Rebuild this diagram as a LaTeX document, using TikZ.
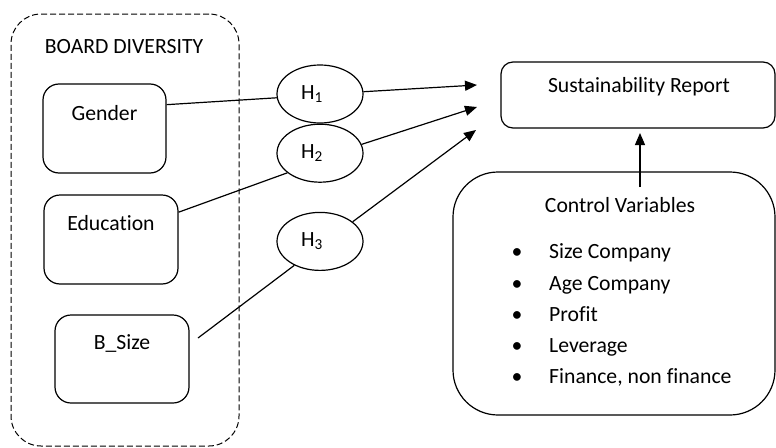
\documentclass[tikz,border=0pt]{standalone}
\usepackage{fontspec}
\setmainfont[Ligatures=NoCommon]{Carlito}
\usetikzlibrary{positioning, arrows.meta, shapes.geometric}

\begin{document}
\begin{tikzpicture}[x=1pt, y=-1pt,
    font=\fontsize{21.7}{26}\selectfont,
    groupbox/.style={draw, dash pattern=on 6pt off 3pt, rounded corners=30pt, line width=1pt},
    varbox/.style={draw, rounded corners=16pt, line width=1.2pt, minimum height=89pt},
    hypnode/.style={ellipse, draw, line width=1.2pt, minimum width=86pt, minimum height=58pt, inner sep=0pt},
    depbox/.style={draw, rounded corners=12pt, line width=1.2pt, minimum width=274pt, minimum height=66pt},
    ctrlbox/.style={draw, rounded corners=45pt, line width=1.2pt, minimum width=322pt, minimum height=243pt},
    bullet/.style={anchor=base, inner sep=0pt},
    itemtxt/.style={anchor=base west, inner sep=0pt},
    linestyle/.style={line width=1.2pt},
    arrowstyle/.style={-{Triangle[length=12pt,width=10pt]}, line width=1.2pt}
]
\useasboundingbox (0,0) rectangle (776,447);

% Board diversity
\node[groupbox, minimum width=228pt, minimum height=432pt] (board) at (125,230) {};
\node[anchor=base] (boardtitle) at (124,53) {BOARD DIVERSITY};

\node[varbox, minimum width=123pt] (gender) at (104.5,128.5) {};
\node[below=18pt of gender.north] (gendertxt) {Gender};
\node[varbox, minimum width=134pt] (education) at (111,239.5) {};
\node[below=17pt of education.north] (educationtxt) {Education};
\node[varbox, minimum width=134pt, minimum height=88pt] (bsize) at (122,359) {};
\node[below=17pt of bsize.north] (bsizetxt) {B\_Size};

% Hypotheses
\node[hypnode] (h1) at (320,94) {H\textsubscript{1}\kern16pt};
\node[hypnode, below=0pt of h1] (h2) {H\textsubscript{2}\kern16pt};
\node[hypnode, below=29pt of h2] (h3) {H\textsubscript{3}\kern16pt};

% Sustainability report
\node[depbox] (report) at (638,95) {};
\node[anchor=base] (reporttxt) at (639,92) {Sustainability Report};

% Control variables
\node[ctrlbox] (control) at (614,293.5) {};
\node[anchor=base] (ctrltitle) at (620,212) {Control Variables};
\node[bullet] (bul1) at (517,258) {\textbullet};
\node[itemtxt] (item1) at (549,258) {Size Company};
\node[bullet] (bul2) at (517,290) {\textbullet};
\node[itemtxt] (item2) at (549,290) {Age Company};
\node[bullet] (bul3) at (517,321) {\textbullet};
\node[itemtxt] (item3) at (549,321) {Profit};
\node[bullet] (bul4) at (517,352) {\textbullet};
\node[itemtxt] (item4) at (549,352) {Leverage};
\node[bullet] (bul5) at (517,383) {\textbullet};
\node[itemtxt] (item5) at (549,383) {Finance, non finance};

% Connectors
\coordinate (bstart) at (198,338);
\coordinate (t1) at (477,85);
\coordinate (t2) at (477,107);
\coordinate (t3) at (476,130);
\coordinate (cvtop) at (640,187);
\coordinate (cvend) at (640,133);

\draw[linestyle] (gender.21) -- (h1.185);
\draw[linestyle] (education.22) -- (h2.211);
\draw[linestyle] (bstart) -- (h3.223);
\draw[arrowstyle] (h1.3) -- (t1);
\draw[arrowstyle] (h2.12) -- (t2);
\draw[arrowstyle] (h3.31) -- (t3);
\draw[arrowstyle] (cvtop) -- (cvend);

\end{tikzpicture}
\end{document}
